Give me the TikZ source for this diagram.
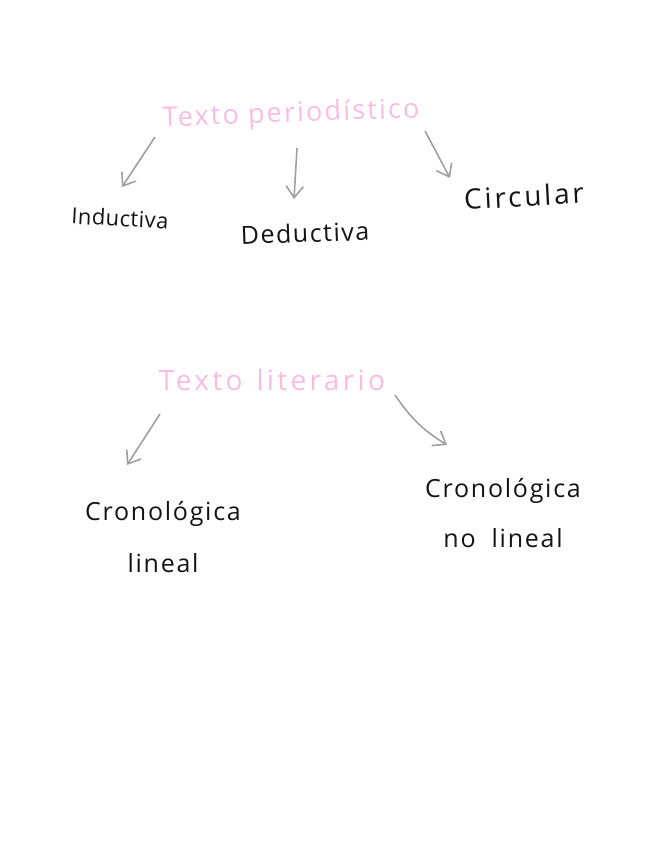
\documentclass[tikz,border=0pt]{standalone}
\usepackage{fontspec}
\setmainfont{Open Sans}
\usetikzlibrary{positioning,arrows.meta}
\definecolor{tpink}{RGB}{250,188,228}
\definecolor{tgray}{RGB}{160,160,160}
\definecolor{tink}{RGB}{20,20,20}
\tikzset{
  title/.style={text=tpink, align=center, font=\fontsize{27}{30}\selectfont\addfontfeatures{LetterSpace=8}},
  leaf/.style={text=tink, align=center, font=\fontsize{25}{52}\selectfont\addfontfeatures{LetterSpace=7}},
  arrow/.style={-{Straight Barb[length=4mm, width=6mm]}, line width=1.6pt, tgray}
}
\begin{document}
\begin{tikzpicture}[x=1pt, y=1pt]
  \useasboundingbox (0,0) rectangle (656,848);
  % primer esquema
  \node[title, rotate=2] (tp) at (291,733) {Texto periodístico};
  \node[leaf, font=\fontsize{22}{26}\selectfont\addfontfeatures{LetterSpace=2}, rotate=-3] (ind) at (120,630) {Inductiva};
  \node[leaf, font=\fontsize{25}{30}\selectfont\addfontfeatures{LetterSpace=6}, rotate=2] (ded) at (305,615) {Deductiva};
  \node[leaf, font=\fontsize{28}{30}\selectfont\addfontfeatures{LetterSpace=10}, rotate=3] (circ) at (524,652) {Circular};
  \coordinate (a1) at (155,711);
  \coordinate (a2) at (297,700);
  \coordinate (a3) at (425,717);
  \draw[arrow] (a1) -- (122,661) coordinate (h1);
  \draw[arrow] (a2) -- (294,649) coordinate (h2);
  \draw[arrow] (a3) -- (450,670) coordinate (h3);
  % segundo esquema
  \node[title, font=\fontsize{28}{30}\selectfont\addfontfeatures{LetterSpace=12}] (tl) at (272,468) {Texto\hspace{14pt}literario};
  \node[leaf] (clin) at (163,311) {Cronológica\\lineal};
  \node[leaf, font=\fontsize{25}{50}\selectfont\addfontfeatures{LetterSpace=7}] (cnolin) at (503,335) {Cronológica\\no\hspace{16pt}lineal};
  \coordinate (a4) at (160,434);
  \coordinate (a5) at (395,453);
  \draw[arrow] (a4) -- (127,383) coordinate (h4);
  \draw[arrow] (a5) to[bend right=12] (447,403) coordinate (h5);
\end{tikzpicture}
\end{document}
